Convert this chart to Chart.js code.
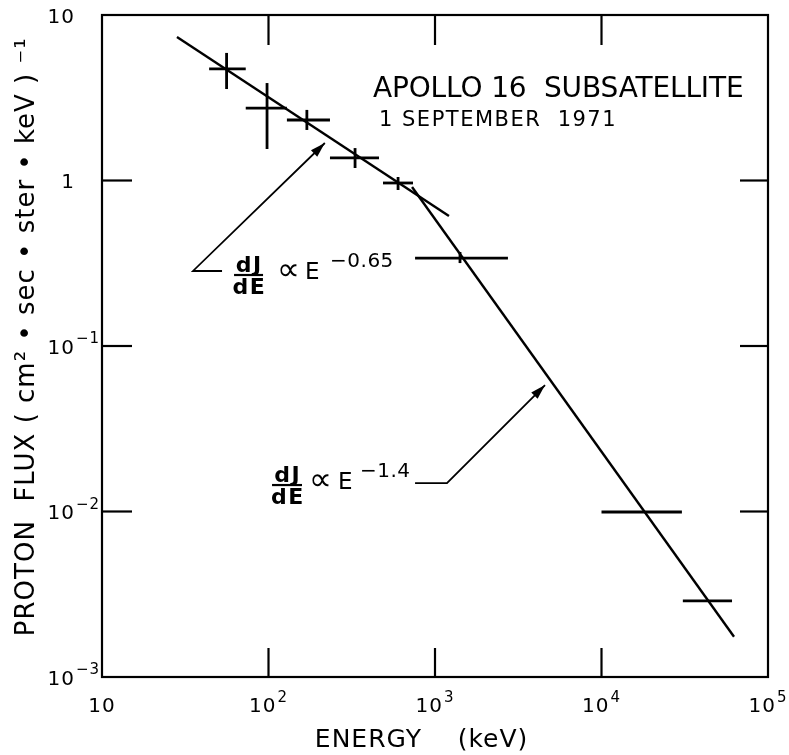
<!DOCTYPE html>
<html><head><meta charset="utf-8">
<script src="https://cdn.jsdelivr.net/npm/chart.js@4.4.0/dist/chart.umd.min.js"></script>
<style>html,body{margin:0;padding:0;background:#fff;}#wrap{width:789px;height:755px;}</style>
</head><body><div id="wrap"><canvas id="c" width="789" height="755"></canvas></div>
<script>
// ---- data ----
const energy     = [56, 98, 170, 331, 600, 1413, 17750, 43600];
const flux       = [4.72, 2.74, 2.32, 1.37, 0.966, 0.340, 0.00993, 0.00288];
const energyLow  = [44, 73, 129, 234, 487, 759, 10000, 30800];
const energyHigh = [73, 129, 234, 461, 738, 2742, 30400, 60800];
const fluxLow    = [3.57, 1.55, 2.02, 1.19, 0.876, 0.317, 0.00993, 0.00288];
const fluxHigh   = [5.90, 3.88, 2.67, 1.57, 1.05, 0.37, 0.00993, 0.00288];
const fitSoftE = [28.2, 1213];
const fitSoftF = [7.36, 0.610];
const fitHardE = [728, 62500];
const fitHardF = [0.914, 0.00175];
const xTickValues = [10, 100, 1000, 10000, 100000];
const xTickBase   = ['10', '10', '10', '10', '10'];
const xTickExp    = ['', '2', '3', '4', '5'];
const yTickValues = [0.001, 0.01, 0.1, 1, 10];
const yTickBase   = ['10', '10', '10', '1', '10'];
const yTickExp    = ['−3', '−2', '−1', '', ''];
const titleLines = ['APOLLO 16  SUBSATELLITE', '1 SEPTEMBER  1971'];
const softLabel = {num: 'dJ', den: 'dE', rel: '∝', e: 'E', exp: '−0.65'};
const hardLabel = {num: 'dJ', den: 'dE', rel: '∝', e: 'E', exp: '−1.4'};

// ---- annotation placement (data coordinates) ----
const notes = {
  title: [{x: 424, y: 3.195, size: 28, spacing: -0.15}, {x: 461, y: 2.135, size: 21, spacing: 1.5}],
  soft: {x: 62.1, y: 0.2685, w: 29, rel: 43, e: 71, sup: 96},
  hard: {x: 105, y: 0.01445, w: 30, rel: 37, e: 66, sup: 88},
  softArrow: [[52.6, 0.284], [35.2, 0.284], [218, 1.685]],
  hardArrow: [[759, 0.01486], [1180, 0.01486], [4580, 0.0581]]
};

const FONT = '"DejaVu Sans", sans-serif';

function line(ctx, x1, y1, x2, y2) { ctx.beginPath(); ctx.moveTo(x1, y1); ctx.lineTo(x2, y2); ctx.stroke(); }

function drawPow(ctx, base, exp, x, y, mode) {
  const bf = '20px ' + FONT, sf = '15px ' + FONT;
  ctx.font = bf;
  const bw = ctx.measureText(base).width;
  ctx.font = sf;
  const ew = exp ? ctx.measureText(exp).width + 1 : 0;
  const bx = mode === 'center' ? x - (bw + ew) / 2 : x - bw;
  ctx.textAlign = 'left'; ctx.textBaseline = 'alphabetic';
  ctx.font = bf;
  ctx.fillText(base, bx, y + 7.5);
  if (exp) { ctx.font = sf; ctx.fillText(exp, bx + bw + 1, y - 3); }
}

function arrow(ctx, pts) {
  ctx.beginPath();
  ctx.moveTo(pts[0][0], pts[0][1]);
  for (let i = 1; i < pts.length; i++) ctx.lineTo(pts[i][0], pts[i][1]);
  ctx.stroke();
  const [x2, y2] = pts[pts.length - 1], [x1, y1] = pts[pts.length - 2];
  const a = Math.atan2(y2 - y1, x2 - x1), L = 15, W = 4.5;
  ctx.beginPath();
  ctx.moveTo(x2, y2);
  ctx.lineTo(x2 - L * Math.cos(a) + W * Math.sin(a), y2 - L * Math.sin(a) - W * Math.cos(a));
  ctx.lineTo(x2 - L * Math.cos(a) - W * Math.sin(a), y2 - L * Math.sin(a) + W * Math.cos(a));
  ctx.closePath(); ctx.fill();
}

function powerLabel(ctx, lab, n, xs, ys) {
  const x = xs.getPixelForValue(n.x), y = ys.getPixelForValue(n.y);
  ctx.lineWidth = 2.2;
  line(ctx, x, y, x + n.w, y);
  ctx.textAlign = 'center'; ctx.textBaseline = 'alphabetic';
  ctx.letterSpacing = '1.5px';
  ctx.font = 'bold 22px ' + FONT;
  ctx.fillText(lab.num, x + n.w / 2 + 0.75, y - 3);
  ctx.fillText(lab.den, x + n.w / 2 + 0.75, y + 19);
  ctx.letterSpacing = '0px';
  ctx.textAlign = 'left';
  ctx.font = '32px ' + FONT; ctx.textBaseline = 'middle';
  ctx.fillText(lab.rel, x + n.rel, y - 3);
  ctx.textBaseline = 'alphabetic';
  ctx.font = '23px ' + FONT;
  ctx.fillText(lab.e, x + n.e, y + 4);
  ctx.letterSpacing = '0.5px';
  ctx.font = '20px ' + FONT;
  ctx.fillText(lab.exp, x + n.sup, y - 8);
  ctx.letterSpacing = '0px';
}

const paperPlugin = {
  id: 'paper',
  beforeDraw(chart) { chart.ctx.letterSpacing = '1px'; },
  beforeDatasetsDraw(chart) {
    const ctx = chart.ctx;
    ctx.letterSpacing = '0px';
    const {left, right, top, bottom} = chart.chartArea;
    const xs = chart.scales.x, ys = chart.scales.y;
    ctx.save();
    ctx.strokeStyle = '#000'; ctx.fillStyle = '#000'; ctx.lineWidth = 2.2;
    ctx.strokeRect(left, top, right - left, bottom - top);
    xs.ticks.forEach(t => {
      if (t.value <= xs.min || t.value >= xs.max) return;
      const p = xs.getPixelForValue(t.value);
      line(ctx, p, bottom, p, bottom - 29);
      line(ctx, p, top, p, top + 30);
    });
    ys.ticks.forEach(t => {
      if (t.value <= ys.min || t.value >= ys.max) return;
      const p = ys.getPixelForValue(t.value);
      line(ctx, left, p, left + 30, p);
      line(ctx, right, p, right - 28, p);
    });
    ctx.letterSpacing = '1px';
    xTickValues.forEach((v, i) => drawPow(ctx, xTickBase[i], xTickExp[i], xs.getPixelForValue(v), bottom + 27.5, 'center'));
    yTickValues.forEach((v, i) => drawPow(ctx, yTickBase[i], yTickExp[i], left - 27, ys.getPixelForValue(v), 'right'));
    ctx.letterSpacing = '0px';
    ctx.restore();
  },
  afterDatasetsDraw(chart) {
    const ctx = chart.ctx;
    const xs = chart.scales.x, ys = chart.scales.y;
    ctx.save();
    ctx.strokeStyle = '#000'; ctx.fillStyle = '#000';
    ctx.lineWidth = 2.8; ctx.lineCap = 'butt';
    energy.forEach((e, i) => {
      const cx = xs.getPixelForValue(e), cy = ys.getPixelForValue(flux[i]);
      line(ctx, xs.getPixelForValue(energyLow[i]), cy, xs.getPixelForValue(energyHigh[i]), cy);
      if (fluxLow[i] !== fluxHigh[i]) line(ctx, cx, ys.getPixelForValue(fluxLow[i]), cx, ys.getPixelForValue(fluxHigh[i]));
    });
    ctx.textAlign = 'left'; ctx.textBaseline = 'alphabetic';
    titleLines.forEach((t, i) => {
      const n = notes.title[i];
      ctx.letterSpacing = n.spacing + 'px';
      ctx.font = n.size + 'px ' + FONT;
      ctx.fillText(t, xs.getPixelForValue(n.x), ys.getPixelForValue(n.y));
    });
    ctx.letterSpacing = '0px';
    powerLabel(ctx, softLabel, notes.soft, xs, ys);
    powerLabel(ctx, hardLabel, notes.hard, xs, ys);
    ctx.lineWidth = 1.8;
    arrow(ctx, notes.softArrow.map(p => [xs.getPixelForValue(p[0]), ys.getPixelForValue(p[1])]));
    arrow(ctx, notes.hardArrow.map(p => [xs.getPixelForValue(p[0]), ys.getPixelForValue(p[1])]));
    ctx.restore();
  }
};

new Chart(document.getElementById('c'), {
  type: 'scatter',
  data: {
    datasets: [
      {label: 'Measured proton flux', data: energy.map((e, i) => ({x: e, y: flux[i]})),
       pointRadius: 0, showLine: false, borderColor: '#000', backgroundColor: '#000'},
      {label: 'dJ/dE ∝ E^-0.65', data: fitSoftE.map((e, i) => ({x: e, y: fitSoftF[i]})),
       showLine: true, pointRadius: 0, borderColor: '#000', borderWidth: 2.4},
      {label: 'dJ/dE ∝ E^-1.4', data: fitHardE.map((e, i) => ({x: e, y: fitHardF[i]})),
       showLine: true, pointRadius: 0, borderColor: '#000', borderWidth: 2.4}
    ]
  },
  options: {
    responsive: false, animation: false, devicePixelRatio: 1,
    layout: {padding: {top: 15, right: 21, left: 0, bottom: 0}},
    plugins: {legend: {display: false}, tooltip: {enabled: false}},
    scales: {
      x: {
        type: 'logarithmic', min: 10, max: 100000, position: 'bottom',
        afterBuildTicks: s => { s.ticks = xTickValues.map(v => ({value: v})); },
        afterFit: s => { s.height = 78; },
        ticks: {display: false}, grid: {display: false}, border: {display: false},
        title: {display: true, text: 'ENERGY    (keV)   ', color: '#000',
                font: {family: 'DejaVu Sans', size: 25, lineHeight: 1}, padding: {top: 0, bottom: 2}}
      },
      y: {
        type: 'logarithmic', min: 0.001, max: 10, position: 'left',
        afterBuildTicks: s => { s.ticks = yTickValues.map(v => ({value: v})); },
        afterFit: s => { s.width = 102; },
        ticks: {display: false}, grid: {display: false}, border: {display: false},
        title: {display: true, text: '  PROTON  FLUX ( cm² • sec • ster • keV ) ⁻¹', color: '#000',
                font: {family: 'DejaVu Sans', size: 26, lineHeight: 1}, padding: {top: 14.6, bottom: 0}}
      }
    }
  },
  plugins: [paperPlugin]
});
</script>
</body></html>
